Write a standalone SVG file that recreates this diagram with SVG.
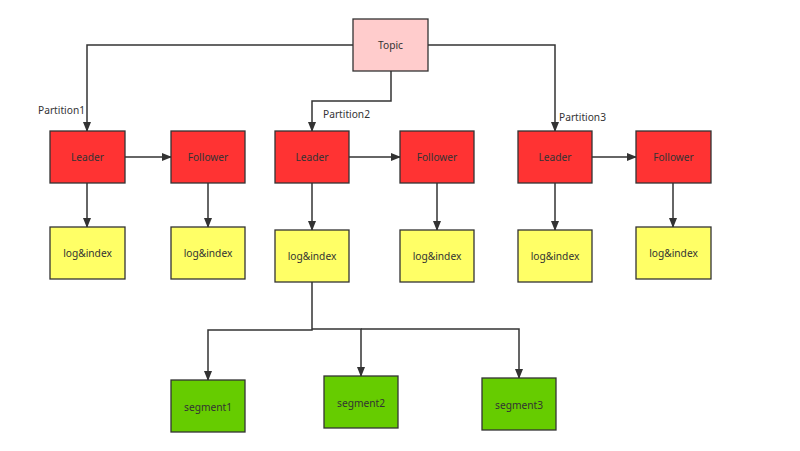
<svg xmlns="http://www.w3.org/2000/svg" width="800" height="451" viewBox="0 0 800 451">
<style>
.n{stroke:#333;stroke-width:1.3}
.t{font-family:"Noto Sans","Open Sans",sans-serif;font-size:10.2px;fill:#333;text-anchor:middle;dominant-baseline:central}
.l{font-family:"Noto Sans","Open Sans",sans-serif;font-size:10.2px;fill:#333}
.c{fill:none;stroke:#333;stroke-width:1.5}
.red{fill:#FF3333}
.yel{fill:#FFFF66}
.grn{fill:#66CC00}
</style>
<defs>
<marker id="a" markerWidth="10" markerHeight="8" refX="9" refY="4" orient="auto" markerUnits="userSpaceOnUse">
<path d="M0,0 L10,4 L0,8 Z" fill="#333"/>
</marker>
</defs>
<rect width="800" height="451" fill="#fff"/>
<g id="connectors">
<path class="c" d="M353,45 H87 V131" marker-end="url(#a)"/>
<path class="c" d="M391,71 V101 H312 V131" marker-end="url(#a)"/>
<path class="c" d="M428,45 H555 V131" marker-end="url(#a)"/>
<path class="c" d="M125,157 H171" marker-end="url(#a)"/>
<path class="c" d="M349,157 H400" marker-end="url(#a)"/>
<path class="c" d="M592,157 H636" marker-end="url(#a)"/>
<path class="c" d="M87,183 V227" marker-end="url(#a)"/>
<path class="c" d="M208,183 V227" marker-end="url(#a)"/>
<path class="c" d="M312,183 V230" marker-end="url(#a)"/>
<path class="c" d="M437,183 V230" marker-end="url(#a)"/>
<path class="c" d="M555,183 V230" marker-end="url(#a)"/>
<path class="c" d="M673,183 V227" marker-end="url(#a)"/>
<path class="c" d="M312,282 V330 H208 V380" marker-end="url(#a)"/>
<path class="c" d="M312,329 H361 V376" marker-end="url(#a)"/>
<path class="c" d="M361,329 H519 V378" marker-end="url(#a)"/>
<text class="l" x="85" y="114" text-anchor="end">Partition1</text>
<text class="l" x="323" y="118">Partition2</text>
<text class="l" x="559" y="121">Partition3</text>
</g>
<g id="topic"><rect class="n" x="353" y="19" width="75" height="52" fill="#FFCCCC"/><text class="t" x="390.5" y="45">Topic</text></g>
<g id="leader1"><rect class="n red" x="50" y="131" width="75" height="52"/><text class="t" x="87.5" y="157">Leader</text></g>
<g id="follower1"><rect class="n red" x="171" y="131" width="74" height="52"/><text class="t" x="208" y="157">Follower</text></g>
<g id="leader2"><rect class="n red" x="275" y="131" width="74" height="52"/><text class="t" x="312" y="157">Leader</text></g>
<g id="follower2"><rect class="n red" x="400" y="131" width="74" height="52"/><text class="t" x="437" y="157">Follower</text></g>
<g id="leader3"><rect class="n red" x="518" y="131" width="74" height="52"/><text class="t" x="555" y="157">Leader</text></g>
<g id="follower3"><rect class="n red" x="636" y="131" width="75" height="52"/><text class="t" x="673.5" y="157">Follower</text></g>
<g id="log1"><rect class="n yel" x="50" y="227" width="75" height="52"/><text class="t" x="87.5" y="253">log&amp;index</text></g>
<g id="log2"><rect class="n yel" x="171" y="227" width="74" height="52"/><text class="t" x="208" y="253">log&amp;index</text></g>
<g id="log3"><rect class="n yel" x="275" y="230" width="74" height="52"/><text class="t" x="312" y="256">log&amp;index</text></g>
<g id="log4"><rect class="n yel" x="400" y="230" width="74" height="52"/><text class="t" x="437" y="256">log&amp;index</text></g>
<g id="log5"><rect class="n yel" x="518" y="230" width="74" height="52"/><text class="t" x="555" y="256">log&amp;index</text></g>
<g id="log6"><rect class="n yel" x="636" y="227" width="75" height="52"/><text class="t" x="673.5" y="253">log&amp;index</text></g>
<g id="segment1"><rect class="n grn" x="171" y="380" width="74" height="52"/><text class="t" x="208" y="407">segment1</text></g>
<g id="segment2"><rect class="n grn" x="324" y="376" width="74" height="52"/><text class="t" x="361" y="403">segment2</text></g>
<g id="segment3"><rect class="n grn" x="482" y="378" width="74" height="52"/><text class="t" x="519" y="405">segment3</text></g>
</svg>
